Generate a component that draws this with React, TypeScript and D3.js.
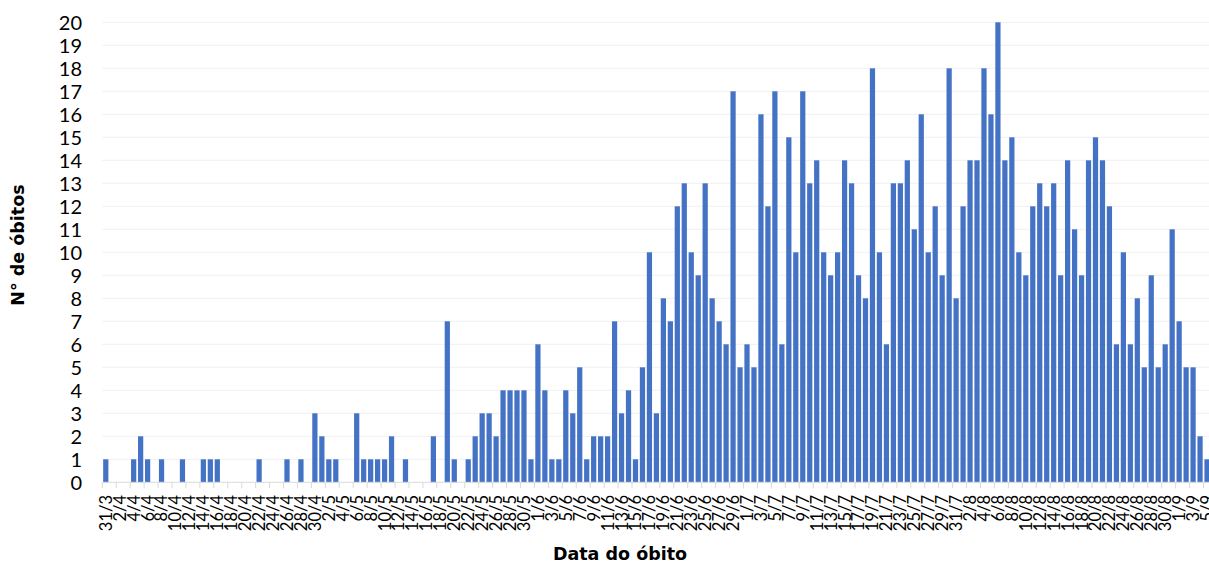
import React from "react";
import * as d3 from "d3";

// Daily deaths, 31/3 to 5/9
const march = [1];
const april = [0,0,0,1,2,1,0,1,0,0,1,0,0,1,1,1,0,0,0,0,0,1,0,0,0,1,0,1,0,3];
const may = [2,1,1,0,0,3,1,1,1,1,2,0,1,0,0,0,2,0,7,1,0,1,2,3,3,2,4,4,4,4,1];
const june = [6,4,1,1,4,3,5,1,2,2,2,7,3,4,1,5,10,3,8,7,12,13,10,9,13,8,7,6,17,5];
const july = [6,5,16,12,17,6,15,10,17,13,14,10,9,10,14,13,9,8,18,10,6,13,13,14,11,16,10,12,9,18,8];
const august = [12,14,14,18,16,20,14,15,10,9,12,13,12,13,9,14,11,9,14,15,14,12,6,10,6,8,5,9,5,6,11];
const september = [7,5,5,2,1];

const yTicks = d3.range(0, 21);
const yTitle = "N° de óbitos";
const xTitle = "Data do óbito";

const values = [...march, ...april, ...may, ...june, ...july, ...august, ...september];
const fmt = d3.timeFormat("%-d/%-m");
const dates = d3.timeDay.range(new Date(2020, 2, 31), new Date(2020, 8, 6)).map(fmt);
const data = dates.map((d, i) => ({ date: d, value: values[i] }));

const W = 1209;
const H = 565;
const FONT = "Lato, 'Noto Sans', sans-serif";
const TITLE_FONT = "'DejaVu Sans', Verdana, sans-serif";

export default function App() {
  const x = d3.scaleBand<string>().domain(dates).range([102.3, 1210.5]).paddingInner(0.25).paddingOuter(0.125);
  const y = d3.scaleLinear().domain([0, 20]).range([482.3, 22.3]);
  const step = x.step();
  const x0 = 102.3;
  const tickIdx = d3.range(0, dates.length + 1, 2);

  return (
    <svg width={W} height={H} style={{ position: "absolute", left: 0, top: 0, background: "#fff" }} fontFamily={FONT}>
      {yTicks.filter((t) => t > 0).map((t) => (
        <line key={"g" + t} x1={x0} x2={W} y1={y(t)} y2={y(t)} stroke="#f0f0f0" strokeWidth={1} />
      ))}
      {data.map((d) => (
        <rect key={d.date} x={x(d.date)} y={y(d.value)} width={x.bandwidth()} height={y(0) - y(d.value)} fill="#4472C4" />
      ))}
      <line x1={x0} x2={W} y1={y(0)} y2={y(0)} stroke="#d9d9d9" strokeWidth={1} />
      {tickIdx.map((k) => (
        <line key={"t" + k} x1={x0 + k * step} x2={x0 + k * step} y1={y(0)} y2={y(0) + 6} stroke="#d9d9d9" strokeWidth={1} />
      ))}
      {yTicks.map((t) => (
        <text key={"y" + t} x={82} y={y(t)} dy="0.36em" textAnchor="end" fontSize={20} fill="#000">
          {t}
        </text>
      ))}
      {data.filter((_, i) => i % 2 === 0).map((d) => {
        const cx = (x(d.date) as number) + x.bandwidth() / 2;
        return (
          <text key={"x" + d.date} transform={`translate(${cx},${495}) rotate(-90)`} dy="0.36em" textAnchor="end" fontSize={16.5} fill="#000">
            {d.date}
          </text>
        );
      })}
      <text transform={`translate(24,245) rotate(-90)`} textAnchor="middle" fontSize={17.5} fontWeight="bold" fontFamily={TITLE_FONT} fill="#000">
        {yTitle}
      </text>
      <text x={620} y={560} textAnchor="middle" fontSize={17.5} fontWeight="bold" fontFamily={TITLE_FONT} fill="#000">
        {xTitle}
      </text>
    </svg>
  );
}
